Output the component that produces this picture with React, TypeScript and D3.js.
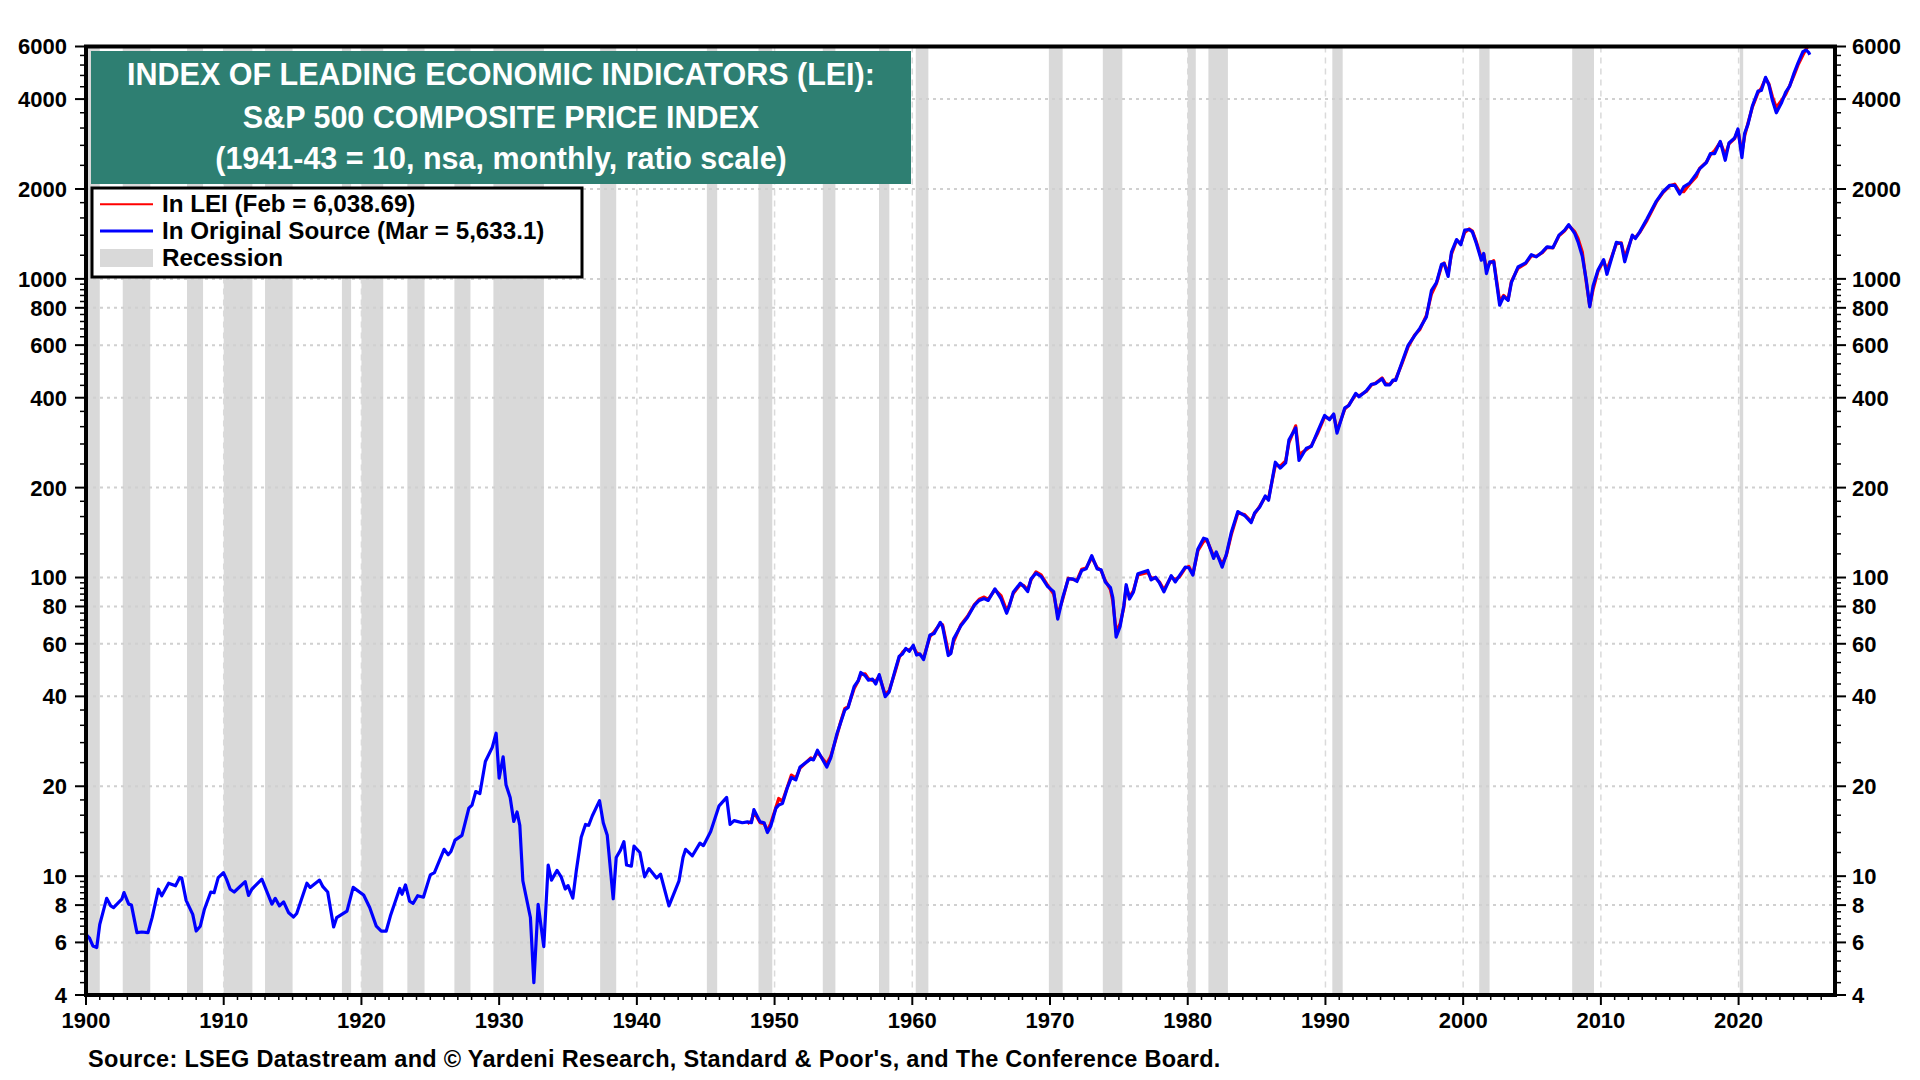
import { useEffect, useRef } from 'react';
import * as d3 from 'd3';

// NBER recessions: [start year, start month, end year, end month]
const recessions: [number, number, number, number][] = [
  [1899, 6, 1900, 12], [1902, 9, 1904, 8], [1907, 5, 1908, 6], [1910, 1, 1912, 1],
  [1913, 1, 1914, 12], [1918, 8, 1919, 3], [1920, 1, 1921, 7], [1923, 5, 1924, 7],
  [1926, 10, 1927, 11], [1929, 8, 1933, 3], [1937, 5, 1938, 6], [1945, 2, 1945, 10],
  [1948, 11, 1949, 10], [1953, 7, 1954, 5], [1957, 8, 1958, 4], [1960, 4, 1961, 2],
  [1969, 12, 1970, 11], [1973, 11, 1975, 3], [1980, 1, 1980, 7], [1981, 7, 1982, 11],
  [1990, 7, 1991, 3], [2001, 3, 2001, 11], [2007, 12, 2009, 6], [2020, 2, 2020, 4],
];

// S&P 500 in original source, 1900-1947 (decimal year, index)
const spEarly: [number, number][] = [
  [1900.05, 6.35], [1900.24, 6.22], [1900.5, 5.84], [1900.78, 5.77], [1901.0, 6.9],
  [1901.5, 8.43], [1901.8, 7.95], [1902.0, 7.85], [1902.6, 8.37], [1902.76, 8.81],
  [1903.1, 8.06], [1903.3, 8.0], [1903.7, 6.47], [1904.05, 6.5], [1904.5, 6.47],
  [1904.8, 7.26], [1905.26, 9.04], [1905.5, 8.6], [1906.0, 9.47], [1906.5, 9.28],
  [1906.8, 9.89], [1906.95, 9.85], [1907.27, 8.3], [1907.75, 7.45], [1908.0, 6.55],
  [1908.3, 6.8], [1908.6, 7.75], [1909.06, 8.85], [1909.3, 8.8], [1909.6, 9.89],
  [1909.98, 10.28], [1910.2, 9.77], [1910.47, 9.04], [1910.76, 8.85], [1911.56, 9.59],
  [1911.8, 8.62], [1912.04, 9.04], [1912.77, 9.77], [1913.5, 8.06], [1913.74, 8.43],
  [1914.05, 7.95], [1914.35, 8.2], [1914.7, 7.56], [1915.07, 7.3], [1915.3, 7.5],
  [1916.04, 9.47], [1916.28, 9.17], [1916.96, 9.7], [1917.2, 9.22], [1917.55, 8.85],
  [1917.98, 6.76], [1918.2, 7.26], [1918.95, 7.64], [1919.4, 9.17], [1919.67, 8.98],
  [1920.16, 8.65], [1920.6, 7.85], [1921.08, 6.8], [1921.44, 6.55], [1921.8, 6.55],
  [1922.1, 7.35], [1922.78, 9.1], [1922.95, 8.7], [1923.2, 9.35], [1923.5, 8.24],
  [1923.75, 8.1], [1924.08, 8.6], [1924.5, 8.5], [1925.0, 10.1], [1925.3, 10.28],
  [1926.0, 12.3], [1926.3, 11.8], [1926.5, 12.1], [1926.8, 13.2], [1927.3, 13.7],
  [1927.8, 16.9], [1928.03, 17.3], [1928.3, 19.2], [1928.6, 18.9], [1929.0, 24.2],
  [1929.5, 27.0], [1929.78, 30.1], [1930.0, 21.3], [1930.29, 25.1], [1930.5, 20.2],
  [1930.8, 18.35], [1931.06, 15.25], [1931.3, 16.4], [1931.5, 14.8], [1931.72, 9.65],
  [1932.27, 7.27], [1932.52, 4.4], [1932.83, 8.05], [1933.24, 5.81], [1933.56, 10.9],
  [1933.8, 9.7], [1934.2, 10.45], [1934.5, 9.95], [1934.8, 9.05], [1935.0, 9.3],
  [1935.35, 8.44], [1935.6, 10.4], [1935.96, 13.5], [1936.27, 14.9], [1936.5, 14.8],
  [1936.76, 15.9], [1937.29, 17.9], [1937.56, 15.1], [1937.85, 13.7], [1938.28, 8.4],
  [1938.5, 11.55], [1938.8, 12.2], [1939.06, 13.05], [1939.25, 10.9], [1939.6, 10.8],
  [1939.79, 12.6], [1940.22, 12.0], [1940.56, 9.95], [1940.88, 10.6], [1941.43, 9.85],
  [1941.72, 10.15], [1942.33, 7.95], [1943.06, 9.65], [1943.35, 11.55], [1943.54, 12.3],
  [1944.03, 11.7], [1944.58, 12.9], [1944.83, 12.65], [1945.36, 14.1], [1945.97, 17.2],
  [1946.52, 18.35], [1946.77, 14.9], [1947.06, 15.35], [1947.66, 15.1],
];

// 1948 onward: [decimal year, original source, in LEI]
const spModern: [number, number, number][] = [
  [1948.03, 15.2, 15.0], [1948.32, 15.1, 15.3], [1948.5, 16.7, 16.4], [1948.95, 15.2, 15.1],
  [1949.24, 15.1, 15.0], [1949.48, 14.0, 14.2], [1949.72, 14.7, 15.0], [1950.1, 16.9, 17.0],
  [1950.3, 17.3, 18.2], [1950.57, 17.5, 17.8], [1950.93, 19.8, 19.9], [1951.22, 21.4, 21.8],
  [1951.54, 21.0, 21.3], [1951.85, 23.2, 23.0], [1952.63, 24.7, 24.9], [1952.82, 24.5, 24.6],
  [1953.11, 26.4, 26.0], [1953.79, 23.2, 23.8], [1954.08, 24.9, 25.2], [1954.52, 29.9, 29.5],
  [1954.8, 32.7, 32.9], [1955.1, 36.0, 36.4], [1955.34, 36.7, 37.0], [1955.78, 43.2, 42.5],
  [1956.07, 45.1, 45.0], [1956.26, 48.1, 47.4], [1956.58, 46.9, 47.6], [1956.82, 45.3, 45.8],
  [1957.11, 45.7, 45.2], [1957.35, 44.0, 45.0], [1957.6, 47.3, 46.8], [1958.03, 39.9, 40.6],
  [1958.32, 41.4, 41.8], [1958.73, 48.5, 48.0], [1959.05, 54.5, 54.0], [1959.29, 55.5, 56.2],
  [1959.53, 57.9, 57.5], [1959.78, 56.6, 57.2], [1960.07, 59.3, 58.6], [1960.31, 55.0, 56.0],
  [1960.55, 55.5, 55.2], [1960.82, 53.1, 53.8], [1961.28, 64.2, 63.4], [1961.59, 65.0, 65.8],
  [1962.03, 70.8, 70.0], [1962.2, 68.5, 69.5], [1962.61, 54.8, 56.5], [1962.8, 55.7, 56.2],
  [1963.0, 62.3, 61.0], [1963.53, 68.9, 69.5], [1964.01, 73.6, 74.2], [1964.5, 80.6, 81.0],
  [1964.86, 83.8, 84.6], [1965.22, 85.0, 86.0], [1965.51, 83.8, 84.5], [1966.0, 91.6, 91.0],
  [1966.44, 85.0, 87.0], [1966.85, 75.9, 77.5], [1967.04, 80.1, 80.8], [1967.33, 89.2, 88.4],
  [1967.84, 95.7, 94.8], [1968.09, 93.3, 94.0], [1968.38, 89.7, 91.0], [1968.62, 99.0, 98.2],
  [1968.98, 103.4, 104.5], [1969.35, 100.8, 102.0], [1969.83, 93.3, 94.2], [1970.27, 89.7, 88.0],
  [1970.56, 72.6, 75.0], [1970.92, 85.6, 84.5], [1971.33, 99.0, 99.5], [1971.65, 99.0, 98.5],
  [1971.96, 97.0, 98.0], [1972.3, 105.5, 106.5], [1972.62, 106.9, 107.5], [1973.03, 118.4, 116.8],
  [1973.42, 106.9, 108.0], [1973.71, 106.1, 105.5], [1974.02, 96.5, 97.5], [1974.39, 92.5, 91.0],
  [1974.56, 85.6, 83.5], [1974.8, 63.1, 66.0], [1975.09, 68.6, 70.0], [1975.36, 80.6, 79.5],
  [1975.53, 94.6, 93.0], [1975.77, 84.7, 86.0], [1976.06, 89.5, 90.5], [1976.38, 103.0, 102.0],
  [1977.1, 105.6, 104.0], [1977.34, 98.2, 99.5], [1977.66, 100.2, 99.8], [1977.95, 95.9, 96.5],
  [1978.27, 89.5, 91.0], [1978.8, 101.4, 100.5], [1979.09, 96.6, 98.5], [1979.4, 101.4, 100.5],
  [1979.82, 108.3, 107.5], [1980.08, 107.8, 109.0], [1980.37, 101.9, 102.5], [1980.74, 124.7, 123.0],
  [1981.15, 135.4, 132.0], [1981.39, 134.4, 133.5], [1981.88, 115.9, 118.0], [1982.07, 121.8, 120.5],
  [1982.5, 108.3, 111.0], [1982.8, 119.4, 118.5], [1983.16, 141.4, 139.0], [1983.64, 166.3, 164.5],
  [1984.13, 161.3, 162.5], [1984.61, 152.8, 154.0], [1984.86, 164.7, 163.5], [1985.22, 171.9, 173.0],
  [1985.63, 187.6, 186.0], [1985.87, 181.5, 184.0], [1986.36, 243.3, 238.0], [1986.72, 232.5, 236.0],
  [1987.11, 242.0, 246.0], [1987.35, 289.2, 283.0], [1987.84, 316.8, 322.0], [1988.08, 246.5, 258.0],
  [1988.61, 271.0, 268.0], [1988.97, 274.5, 276.0], [1989.46, 310.5, 306.0], [1989.94, 349.0, 345.0],
  [1990.3, 337.7, 340.0], [1990.6, 353.0, 350.0], [1990.84, 304.5, 310.0], [1991.4, 369.7, 366.0],
  [1991.69, 376.5, 378.0], [1992.2, 413.6, 410.0], [1992.44, 403.0, 406.0], [1992.97, 421.9, 420.0],
  [1993.34, 443.8, 441.0], [1993.65, 446.0, 448.0], [1994.11, 463.3, 466.0], [1994.36, 441.6, 446.0],
  [1994.67, 441.6, 443.0], [1994.91, 458.5, 455.0], [1995.1, 457.3, 462.0], [1995.52, 520.0, 515.0],
  [1996.0, 599.0, 592.0], [1996.49, 647.0, 650.0], [1996.85, 683.0, 676.0], [1997.33, 745.0, 755.0],
  [1997.7, 916.0, 890.0], [1998.06, 972.0, 965.0], [1998.43, 1119.0, 1105.0], [1998.62, 1125.0, 1130.0],
  [1998.91, 1019.0, 1040.0], [1999.15, 1229.0, 1210.0], [1999.52, 1354.0, 1345.0], [1999.83, 1301.0, 1315.0],
  [2000.11, 1456.0, 1430.0], [2000.43, 1463.0, 1470.0], [2000.67, 1437.0, 1445.0], [2000.96, 1313.0, 1330.0],
  [2001.32, 1155.0, 1175.0], [2001.49, 1217.0, 1210.0], [2001.69, 1042.0, 1080.0], [2001.93, 1141.0, 1130.0],
  [2002.22, 1141.0, 1150.0], [2002.65, 816.0, 840.0], [2002.94, 873.0, 880.0], [2003.26, 847.0, 850.0],
  [2003.5, 971.0, 980.0], [2003.98, 1096.0, 1085.0], [2004.54, 1131.0, 1125.0], [2004.95, 1206.0, 1195.0],
  [2005.31, 1185.0, 1190.0], [2005.75, 1231.0, 1225.0], [2006.09, 1280.0, 1275.0], [2006.52, 1273.0, 1270.0],
  [2006.96, 1401.0, 1395.0], [2007.37, 1456.0, 1450.0], [2007.66, 1520.0, 1510.0], [2008.1, 1420.0, 1440.0],
  [2008.34, 1330.0, 1365.0], [2008.65, 1191.0, 1230.0], [2008.94, 990.0, 975.0], [2009.19, 806.0, 812.0],
  [2009.43, 946.0, 920.0], [2009.79, 1071.0, 1060.0], [2010.2, 1160.0, 1150.0], [2010.44, 1036.0, 1070.0],
  [2011.12, 1325.0, 1310.0], [2011.48, 1313.0, 1320.0], [2011.73, 1141.0, 1180.0], [2012.28, 1401.0, 1390.0],
  [2012.5, 1365.0, 1375.0], [2012.82, 1437.0, 1430.0], [2013.35, 1589.0, 1570.0], [2014.03, 1822.0, 1810.0],
  [2014.51, 1958.0, 1945.0], [2015.0, 2058.0, 2050.0], [2015.36, 2058.0, 2075.0], [2015.72, 1923.0, 1960.0],
  [2016.01, 2032.0, 1958.0], [2016.45, 2095.0, 2080.0], [2016.93, 2246.0, 2200.0], [2017.17, 2334.0, 2345.0],
  [2017.66, 2453.0, 2460.0], [2017.95, 2626.0, 2600.0], [2018.26, 2626.0, 2690.0], [2018.67, 2888.0, 2870.0],
  [2019.03, 2496.0, 2600.0], [2019.3, 2851.0, 2830.0], [2019.71, 2963.0, 2950.0], [2019.95, 3177.0, 3150.0],
  [2020.24, 2548.0, 2650.0], [2020.44, 3073.0, 3010.0], [2020.68, 3291.0, 3320.0], [2021.0, 3791.0, 3760.0],
  [2021.41, 4252.0, 4200.0], [2021.65, 4274.0, 4350.0], [2021.96, 4730.0, 4690.0], [2022.2, 4464.0, 4500.0],
  [2022.45, 3971.0, 4080.0], [2022.74, 3600.0, 3750.0], [2023.1, 3872.0, 3950.0], [2023.42, 4220.0, 4150.0],
  [2023.7, 4409.0, 4430.0], [2024.02, 4877.0, 4800.0], [2024.31, 5276.0, 5200.0], [2024.67, 5765.0, 5620.0],
  [2024.91, 5839.0, 5900.0],
];
const leiLast: [number, number] = [2025.08, 6038.69]; // Feb 2025
const spLast: [number, number][] = [[2025.1, 5720], [2025.17, 5633.1]]; // Mar 2025

const yLabelTicks = [4, 6, 8, 10, 20, 40, 60, 80, 100, 200, 400, 600, 800, 1000, 2000, 4000, 6000];
const decadeTicks = [1900, 1910, 1920, 1930, 1940, 1950, 1960, 1970, 1980, 1990, 2000, 2010, 2020];

const titleLines = [
  'INDEX OF LEADING ECONOMIC INDICATORS (LEI):',
  'S&P 500 COMPOSITE PRICE INDEX',
  '(1941-43 = 10, nsa, monthly, ratio scale)',
];
const legendItems = [
  { label: 'In LEI (Feb = 6,038.69)', kind: 'line', color: '#ff0000', width: 2 },
  { label: 'In Original Source (Mar = 5,633.1)', kind: 'line', color: '#0000ff', width: 3 },
  { label: 'Recession', kind: 'box', color: '#d9d9d9', width: 0 },
];
const sourceNote =
  "Source: LSEG Datastream and \u00a9 Yardeni Research, Standard & Poor's, and The Conference Board.";

const FONT = '"Liberation Sans", Arial, Helvetica, sans-serif';

export default function App() {
  const svgRef = useRef<SVGSVGElement>(null);

  useEffect(() => {
    if (!svgRef.current) return;
    document.body.style.margin = '0';

    const svg = d3.select(svgRef.current);
    svg.selectAll('*').remove();

    const left = 86, right = 1835, top = 46.5, bottom = 995;
    const x = d3.scaleLinear().domain([1900, 2027]).range([left, right]);
    const y = d3.scaleLog().domain([4, 6000]).range([bottom, top]);

    svg.append('rect').attr('width', 1920).attr('height', 1080).attr('fill', 'white');

    // Recession bands
    svg.append('g')
      .selectAll('rect')
      .data(recessions)
      .enter()
      .append('rect')
      .attr('x', d => x(Math.max(1900, d[0] + (d[1] - 1) / 12)))
      .attr('width', d => x(d[2] + d[3] / 12) - x(Math.max(1900, d[0] + (d[1] - 1) / 12)))
      .attr('y', top)
      .attr('height', bottom - top)
      .attr('fill', '#d9d9d9');

    // Gridlines
    const grid = svg.append('g');
    grid.selectAll('.hgrid')
      .data(yLabelTicks.filter(v => v > 4 && v < 6000))
      .enter()
      .append('line')
      .attr('x1', left).attr('x2', right)
      .attr('y1', d => y(d)).attr('y2', d => y(d))
      .attr('stroke', '#d0d0d0').attr('stroke-width', 2).attr('stroke-dasharray', '3 4');
    grid.selectAll('.vgrid')
      .data(decadeTicks.filter(v => v > 1900))
      .enter()
      .append('line')
      .attr('x1', d => x(d)).attr('x2', d => x(d))
      .attr('y1', top).attr('y2', bottom)
      .attr('stroke', '#dadada').attr('stroke-width', 1.5).attr('stroke-dasharray', '6 5');

    // Series
    const line = d3.line<[number, number]>()
      .x(d => x(d[0]))
      .y(d => y(d[1]));

    const leiData: [number, number][] = [...spModern.map(d => [d[0], d[2]] as [number, number]), leiLast];
    const spData: [number, number][] = [...spEarly, ...spModern.map(d => [d[0], d[1]] as [number, number]), ...spLast];

    svg.append('path')
      .datum(leiData)
      .attr('fill', 'none')
      .attr('stroke', '#ff0000')
      .attr('stroke-width', 3.2)
      .attr('stroke-linejoin', 'round')
      .attr('d', line);

    svg.append('path')
      .datum(spData)
      .attr('fill', 'none')
      .attr('stroke', '#0000ff')
      .attr('stroke-width', 3.2)
      .attr('stroke-linejoin', 'round')
      .attr('d', line);

    // Minor y ticks: 0.2 steps from 1x to 2x, 0.4 steps from 2x to 10x per decade
    const minorY: number[] = [];
    [1, 10, 100, 1000].forEach(base => {
      for (let k = 10; k < 20; k += 2) minorY.push((k / 10) * base);
      for (let k = 20; k < 100; k += 4) minorY.push((k / 10) * base);
    });
    const minorYTicks = minorY.filter(v => v >= 4 && v <= 6000 && !yLabelTicks.includes(v));

    const axes = svg.append('g').attr('stroke', 'black');
    minorYTicks.forEach(v => {
      axes.append('line').attr('x1', left - 6).attr('x2', left).attr('y1', y(v)).attr('y2', y(v)).attr('stroke-width', 1.5);
      axes.append('line').attr('x1', right).attr('x2', right + 6).attr('y1', y(v)).attr('y2', y(v)).attr('stroke-width', 1.5);
    });
    yLabelTicks.forEach(v => {
      axes.append('line').attr('x1', left - 11).attr('x2', left).attr('y1', y(v)).attr('y2', y(v)).attr('stroke-width', 2);
      axes.append('line').attr('x1', right).attr('x2', right + 11).attr('y1', y(v)).attr('y2', y(v)).attr('stroke-width', 2);
    });
    for (let yr = 1900; yr <= 2026; yr++) {
      const major = decadeTicks.includes(yr);
      axes.append('line')
        .attr('x1', x(yr)).attr('x2', x(yr))
        .attr('y1', bottom).attr('y2', bottom + (major ? 10 : 5))
        .attr('stroke-width', major ? 2 : 1.5);
    }

    // Frame
    svg.append('rect')
      .attr('x', left).attr('y', top)
      .attr('width', right - left).attr('height', bottom - top)
      .attr('fill', 'none').attr('stroke', 'black').attr('stroke-width', 4);

    // Tick labels
    const labels = svg.append('g')
      .attr('font-family', FONT).attr('font-weight', 'bold').attr('font-size', 22).attr('fill', 'black');
    yLabelTicks.forEach(v => {
      labels.append('text').attr('x', 67).attr('y', y(v)).attr('dy', '0.36em')
        .attr('text-anchor', 'end').text(String(v));
      labels.append('text').attr('x', 1852).attr('y', y(v)).attr('dy', '0.36em')
        .attr('text-anchor', 'start').text(String(v));
    });
    decadeTicks.forEach(yr => {
      labels.append('text').attr('x', x(yr)).attr('y', 1028)
        .attr('text-anchor', 'middle').text(String(yr));
    });

    // Title box
    svg.append('rect')
      .attr('x', 91).attr('y', 51).attr('width', 820).attr('height', 133)
      .attr('fill', '#2e7f72');
    const titleY = [85, 127.5, 169];
    titleLines.forEach((t, i) => {
      svg.append('text')
        .attr('x', 501).attr('y', titleY[i])
        .attr('text-anchor', 'middle')
        .attr('font-family', FONT).attr('font-weight', 'bold').attr('font-size', 30.5)
        .attr('fill', 'white')
        .text(t);
    });

    // Legend
    svg.append('rect')
      .attr('x', 92).attr('y', 188).attr('width', 490).attr('height', 89)
      .attr('fill', 'white').attr('stroke', 'black').attr('stroke-width', 3);
    const legendY = [204.3, 231, 258];
    legendItems.forEach((item, i) => {
      const cy = legendY[i];
      if (item.kind === 'line') {
        svg.append('line')
          .attr('x1', 100).attr('x2', 153).attr('y1', cy).attr('y2', cy)
          .attr('stroke', item.color).attr('stroke-width', item.width);
      } else {
        svg.append('rect')
          .attr('x', 100).attr('y', cy - 9).attr('width', 53).attr('height', 18)
          .attr('fill', item.color);
      }
      svg.append('text')
        .attr('x', 162).attr('y', cy + 8)
        .attr('font-family', FONT).attr('font-weight', 'bold').attr('font-size', 24.2)
        .attr('fill', 'black')
        .text(item.label);
    });

    // Source
    svg.append('text')
      .attr('x', 88).attr('y', 1067)
      .attr('font-family', FONT).attr('font-weight', 'bold').attr('font-size', 23.5)
      .attr('letter-spacing', 0.3)
      .attr('fill', 'black')
      .text(sourceNote);
  }, []);

  return <svg ref={svgRef} width={1920} height={1080} style={{ display: 'block' }} />;
}
